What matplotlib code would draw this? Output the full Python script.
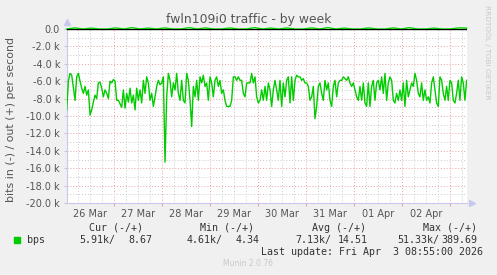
import matplotlib.pyplot as plt
import numpy as np
from matplotlib.ticker import FixedLocator, FixedFormatter

# bits in (shown negative), kbps, evenly spaced over the week
bits_in = [
    -9.3, -6.0, -5.1, -5.3, -6.8, -8.2, -5.5, -5.1, -6.0, -6.8,
    -7.4, -6.6, -7.6, -7.0, -9.9, -9.3, -8.4, -7.6, -8.0, -6.2,
    -6.1, -6.8, -7.8, -7.0, -7.4, -8.0, -6.0, -6.2, -5.8, -6.0,
    -8.2, -8.2, -8.6, -9.0, -7.0, -9.1, -7.4, -8.4, -6.8, -8.5,
    -7.6, -9.3, -6.8, -8.2, -7.0, -8.5, -5.9, -7.4, -5.5, -6.2,
    -8.2, -7.4, -8.9, -7.8, -6.6, -5.9, -6.4, -6.2, -5.5, -15.3,
    -7.8, -5.1, -5.9, -7.8, -6.2, -7.0, -5.1, -7.4, -8.2, -5.9,
    -8.2, -8.5, -5.1, -5.9, -8.2, -11.2, -6.6, -7.8, -5.9, -8.2,
    -5.5, -6.2, -5.3, -6.6, -6.2, -8.2, -5.5, -6.2, -7.8, -5.9,
    -5.5, -6.6, -5.9, -7.4, -7.0, -8.2, -8.9, -8.9, -8.9, -8.2,
    -5.5, -5.5, -5.9, -5.5, -5.9, -5.9, -7.4, -7.8, -6.2, -6.2,
    -6.2, -5.1, -6.2, -5.5, -7.8, -8.5, -8.2, -7.0, -8.2, -6.6,
    -8.2, -6.2, -7.0, -8.9, -7.0, -5.9, -7.0, -8.2, -5.9, -8.9,
    -6.2, -7.8, -5.9, -5.5, -8.5, -5.5, -8.2, -5.9, -5.3, -5.5,
    -5.5, -5.9, -5.7, -6.2, -6.2, -6.6, -8.2, -7.8, -6.6, -10.3,
    -8.9, -6.6, -6.2, -7.4, -8.2, -5.9, -7.0, -6.2, -8.2, -8.9,
    -6.6, -5.9, -7.8, -6.2, -5.9, -5.9, -5.5, -5.7, -5.9, -5.5,
    -6.2, -6.6, -6.2, -7.0, -7.8, -8.2, -6.6, -8.2, -6.2, -8.5,
    -8.9, -6.2, -8.9, -6.6, -5.9, -8.2, -6.2, -5.9, -7.0, -5.5,
    -7.4, -5.1, -8.2, -6.2, -5.5, -5.9, -8.2, -8.5, -7.4, -8.2,
    -7.0, -8.2, -6.2, -8.9, -5.9, -7.8, -7.0, -6.2, -6.6, -5.1,
    -5.9, -7.4, -7.8, -6.2, -8.2, -7.0, -8.2, -7.8, -8.5, -6.2,
    -5.5, -7.0, -8.5, -8.9, -5.5, -5.9, -7.4, -8.2, -6.6, -8.2,
    -5.9, -6.2, -8.2, -8.5, -7.4, -5.9, -8.2, -5.5, -6.2, -8.2,
    -5.9,
]

# bits out (positive), kbps, tiny compared to the inbound traffic
bits_out = [
    0.0, 0.12, 0.0, 0.1, 0.0, 0.0, 0.12, 0.0, 0.15, 0.0,
    0.1, 0.0, 0.12, 0.0, 0.0, 0.15, 0.0, 0.12, 0.0, 0.0,
    0.12, 0.0, 0.0, 0.15, 0.0, 0.1, 0.0, 0.12, 0.0, 0.0,
    0.12, 0.0, 0.15, 0.0, 0.1, 0.0, 0.0, 0.12, 0.0, 0.0,
    0.12, 0.0, 0.15, 0.0, 0.0, 0.1, 0.0, 0.0, 0.12, 0.1,
]

day_labels = ['26 Mar', '27 Mar', '28 Mar', '29 Mar', '30 Mar', '31 Mar', '01 Apr', '02 Apr']

# days since 26 Mar 00:00
t_start, t_end = 0.014, 8.347
t_in = np.linspace(t_start, t_end, len(bits_in))
t_out = np.linspace(t_start, t_end, len(bits_out))

bg = '#F0F0F0'
fig = plt.figure(figsize=(4.97, 2.75), dpi=100, facecolor=bg)
ax = fig.add_axes([67 / 497, 1 - 203 / 275, 400 / 497, 174 / 275])
ax.set_facecolor('white')

ax.plot(t_in, bits_in, color='#00CC00', lw=1.0, zorder=3)
ax.plot(t_out, bits_out, color='#00CC00', lw=1.0, zorder=4, clip_on=False)
ax.axhline(0, color='black', lw=1.0, zorder=5)

ax.set_xlim(0.02, 8.355)
ax.set_ylim(-20, 0)

# x: red grid at midnight, gray every 6 hours, labels at noon
midnights = np.arange(1, 9)
quarters = [d + q for d in range(9) for q in (0.25, 0.5, 0.75)]
ax.xaxis.set_major_locator(FixedLocator(midnights))
ax.xaxis.set_major_formatter(FixedFormatter([''] * len(midnights)))
ax.xaxis.set_minor_locator(FixedLocator(quarters))
minor_labels = []
for q in quarters:
    d = int(q)
    minor_labels.append(day_labels[d] if abs(q - d - 0.5) < 1e-9 and d < len(day_labels) else '')
ax.xaxis.set_minor_formatter(FixedFormatter(minor_labels))

# y: red grid every 2k, gray every 1k
yt = np.arange(-20, 1, 2)
ax.set_yticks(yt)
ax.set_yticklabels(['0.0' if v == 0 else f'{v:.1f} k' for v in yt])
ax.set_yticks(np.arange(-19, 0, 2), minor=True)

ax.grid(which='major', color='#E8A0A0', ls=(0, (1, 2)), lw=0.7)
ax.grid(which='minor', color='#C8C8C8', ls=(0, (1, 2)), lw=0.7)
ax.set_axisbelow(True)

ax.tick_params(axis='both', which='both', labelsize=7, labelcolor='#555555')
ax.tick_params(axis='x', which='major', length=2, color='#E8A0A0')
ax.tick_params(axis='x', which='minor', length=0, pad=4)
ax.tick_params(axis='y', which='major', length=2, color='#C8C8C8', pad=3)
ax.tick_params(axis='y', which='minor', length=0)

for s in ('top', 'right'):
    ax.spines[s].set_visible(False)
for s in ('left', 'bottom'):
    ax.spines[s].set_color('#C8C8F0')
    ax.spines[s].set_linewidth(0.8)

ax.plot([0], [1.04], marker='^', ms=5, color='#C8C8F0', transform=ax.transAxes, clip_on=False)
ax.plot([1.012], [0], marker='>', ms=5, color='#C8C8F0', transform=ax.transAxes, clip_on=False)

ax.set_ylabel('bits in (-) / out (+) per second', fontsize=7.9, color='#555555')
ax.yaxis.set_label_coords(-0.127, 0.48)

fig.text(0.5, 1 - 20 / 275, 'fwln109i0 traffic - by week', ha='center', va='center',
         fontsize=8.9, color='#555555')
fig.text(487 / 497, 1 - 5 / 275, 'RRDTOOL / TOBI OETIKER', rotation=270, ha='center', va='top',
         fontsize=5.3, color='#C8C8C8')

# legend block
mono = 'DejaVu Sans Mono'
fs = 7.2
tc = '#333333'
def ftext(x, y, s, **kw):
    fig.text(x / 497, 1 - y / 275, s, family=mono, fontsize=fs, color=tc, va='center', **kw)

ftext(89, 228, 'Cur (-/+)')
ftext(200, 228, 'Min (-/+)')
ftext(312, 228, 'Avg (-/+)')
ftext(423, 228, 'Max (-/+)')

fig.patches.append(plt.Rectangle((14 / 497, 1 - 243 / 275), 6 / 497, 6 / 275,
                                 transform=fig.transFigure, color='#00CC00'))
ftext(27, 240, 'bps')
ftext(79, 240, '5.91k/')
ftext(152, 240, '8.67', ha='right')
ftext(187, 240, '4.61k/')
ftext(260, 240, '4.34', ha='right')
ftext(295, 240, '7.13k/')
ftext(368, 240, '14.51', ha='right')
ftext(397, 240, '51.33k/')
ftext(477, 240, '389.69', ha='right')
ftext(483, 252, 'Last update: Fri Apr  3 08:55:00 2026', ha='right')

fig.text(248 / 497, 1 - 264 / 275, 'Munin 2.0.76', ha='center', va='center',
         fontsize=5.5, color='#C8C8C8')

fig.savefig('out.png', dpi=100, facecolor=bg)
